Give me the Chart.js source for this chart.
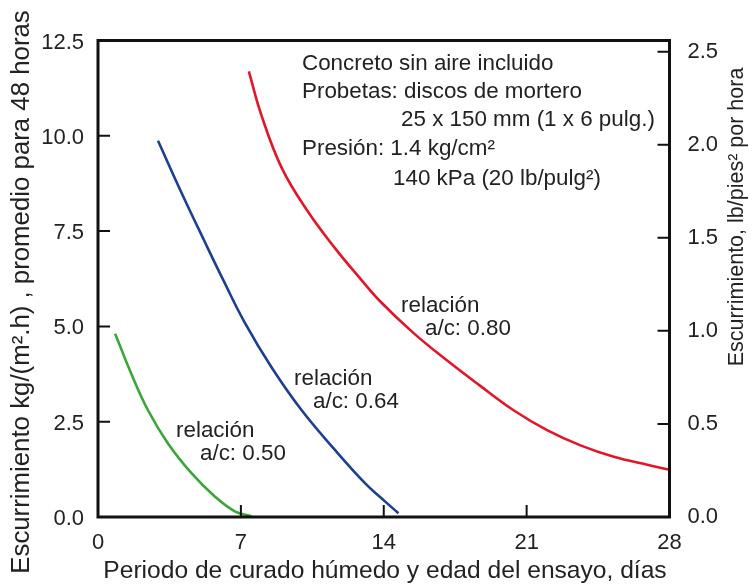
<!DOCTYPE html>
<html lang="es">
<head>
    <meta charset="utf-8" />
    <title>Escurrimiento vs periodo de curado</title>
    <script src="https://cdn.jsdelivr.net/npm/chart.js@4.4.0/dist/chart.umd.min.js"></script>
    <style>
        html, body { margin: 0; padding: 0; background: #fff; }
        #wrap { width: 753px; height: 585px; }
    </style>
</head>
<body>
    <div id="wrap"><canvas id="chart"></canvas></div>
    <script>
        // tick labels
        const xTicks = [0, 7, 14, 21, 28];
        const leftTicks = [0, 2.5, 5, 7.5, 10, 12.5];
        const rightTicks = [0, 0.5, 1, 1.5, 2, 2.5];
        const KG_TO_LB = 0.2048; // kg/m2 -> lb/pie2

        // a/c 0.50
        const greenDays = [0.84, 1.63, 2.45, 3.43, 4.58, 5.72, 6.70, 7.52];
        const greenRate = [4.81, 3.76, 2.80, 1.93, 1.15, 0.54, 0.15, 0.02];
        // a/c 0.64
        const blueDays = [2.94, 4.08, 5.23, 6.17, 7.19, 8.50, 9.98, 11.61, 13.08, 14.06, 14.72];
        const blueRate = [9.87, 8.52, 7.22, 6.18, 5.10, 3.93, 2.80, 1.76, 0.89, 0.41, 0.10];
        // a/c 0.80
        const redDays = [7.39, 8.0, 9.0, 10.3, 11.6, 12.84, 13.82, 15.45, 17.09, 18.73, 20.36, 22.0, 23.64, 25.27, 26.91, 28.0];
        const redRate = [11.69, 10.55, 9.16, 8.0, 7.06, 6.26, 5.66, 4.83, 4.11, 3.44, 2.80, 2.28, 1.88, 1.58, 1.37, 1.24];

        const FONT = '"Liberation Sans", Arial, sans-serif';
        const INK = '#222';

        const toPoints = (xs, ys) => xs.map((x, i) => ({ x: x, y: ys[i] }));

        const curve = (data, color) => ({
            data: data,
            borderColor: color,
            borderWidth: 2.6,
            showLine: true,
            pointRadius: 0,
            fill: false,
            tension: 0.4
        });

        // frame, inward ticks and all the free text
        const decor = {
            id: 'decor',
            afterDraw(chart) {
                const ctx = chart.ctx;
                const a = chart.chartArea;
                const sx = chart.scales.x, sy = chart.scales.y, sy2 = chart.scales.y2;
                ctx.save();
                ctx.strokeStyle = '#111';
                ctx.lineWidth = 2;
                ctx.beginPath();
                xTicks.forEach(v => {
                    const p = sx.getPixelForValue(v);
                    ctx.moveTo(p, a.bottom); ctx.lineTo(p, a.bottom - 12);
                });
                leftTicks.forEach(v => {
                    const p = sy.getPixelForValue(v);
                    ctx.moveTo(a.left, p); ctx.lineTo(a.left + 12, p);
                });
                rightTicks.forEach(v => {
                    const p = sy2.getPixelForValue(v);
                    ctx.moveTo(a.right, p); ctx.lineTo(a.right - 12, p);
                });
                ctx.stroke();
                ctx.lineWidth = 3;
                ctx.strokeRect(a.left, a.top, a.right - a.left, a.bottom - a.top);

                ctx.fillStyle = INK;
                ctx.textBaseline = 'alphabetic';
                ctx.textAlign = 'left';
                ctx.font = '22.4px ' + FONT;
                const notes = [
                    ['Concreto sin aire incluido', 302, 70],
                    ['Probetas: discos de mortero', 302, 98],
                    ['25 x 150 mm (1 x 6 pulg.)', 401, 126],
                    ['Presión: 1.4 kg/cm²', 302, 155],
                    ['140 kPa (20 lb/pulg²)', 393, 185],
                    ['relación', 401, 312],
                    ['a/c: 0.80', 425, 335],
                    ['relación', 294, 385],
                    ['a/c: 0.64', 313, 408],
                    ['relación', 176, 437],
                    ['a/c: 0.50', 200, 460]
                ];
                notes.forEach(n => ctx.fillText(n[0], n[1], n[2]));

                // axis titles
                ctx.textAlign = 'center';
                ctx.font = '24.6px ' + FONT;
                ctx.fillText('Periodo de curado húmedo y edad del ensayo, días', 385, 578);

                ctx.textBaseline = 'middle';
                ctx.save();
                ctx.font = '25.8px ' + FONT;
                ctx.translate(22, 292);
                ctx.rotate(-Math.PI / 2);
                ctx.fillText('Escurrimiento kg/(m².h) , promedio para 48 horas', 0, 0);
                ctx.restore();

                ctx.save();
                ctx.font = '21.5px ' + FONT;
                ctx.translate(737, 217);
                ctx.rotate(-Math.PI / 2);
                ctx.fillText('Escurrimiento, lb/pies² por hora', 0, 0);
                ctx.restore();
                ctx.restore();
            }
        };

        const tickFont = { family: FONT, size: 22 };

        new Chart(document.getElementById('chart'), {
            type: 'scatter',
            data: {
                datasets: [
                    curve(toPoints(greenDays, greenRate), '#3aa63a'),
                    curve(toPoints(blueDays, blueRate), '#1d3f8f'),
                    curve(toPoints(redDays, redRate), '#e0162b')
                ]
            },
            options: {
                responsive: true,
                maintainAspectRatio: false,
                animation: false,
                layout: { padding: { top: 40.5, left: 0, right: 0, bottom: 0 } },
                plugins: {
                    legend: { display: false },
                    tooltip: { enabled: false }
                },
                scales: {
                    x: {
                        type: 'linear',
                        min: 0,
                        max: 28,
                        grid: { display: false, drawTicks: false },
                        border: { display: false },
                        afterBuildTicks: s => { s.ticks = xTicks.map(v => ({ value: v })); },
                        afterFit: s => { s.height = 68; },
                        ticks: { font: tickFont, color: INK, padding: 13, maxRotation: 0 }
                    },
                    y: {
                        type: 'linear',
                        position: 'left',
                        min: 0,
                        max: 12.5,
                        grid: { display: false, drawTicks: false },
                        border: { display: false },
                        afterBuildTicks: s => { s.ticks = leftTicks.map(v => ({ value: v })); },
                        afterFit: s => { s.width = 98; },
                        ticks: {
                            font: tickFont, color: INK, padding: 14, labelOffset: 2,
                            callback: v => v.toFixed(1)
                        }
                    },
                    y2: {
                        type: 'linear',
                        position: 'right',
                        min: 0,
                        max: 12.5 * KG_TO_LB,
                        grid: { display: false, drawTicks: false },
                        border: { display: false },
                        afterBuildTicks: s => { s.ticks = rightTicks.map(v => ({ value: v })); },
                        afterFit: s => { s.width = 83.5; },
                        ticks: {
                            font: tickFont, color: INK, padding: 18,
                            callback: v => v.toFixed(1)
                        }
                    }
                }
            },
            plugins: [decor]
        });
    </script>
</body>
</html>
